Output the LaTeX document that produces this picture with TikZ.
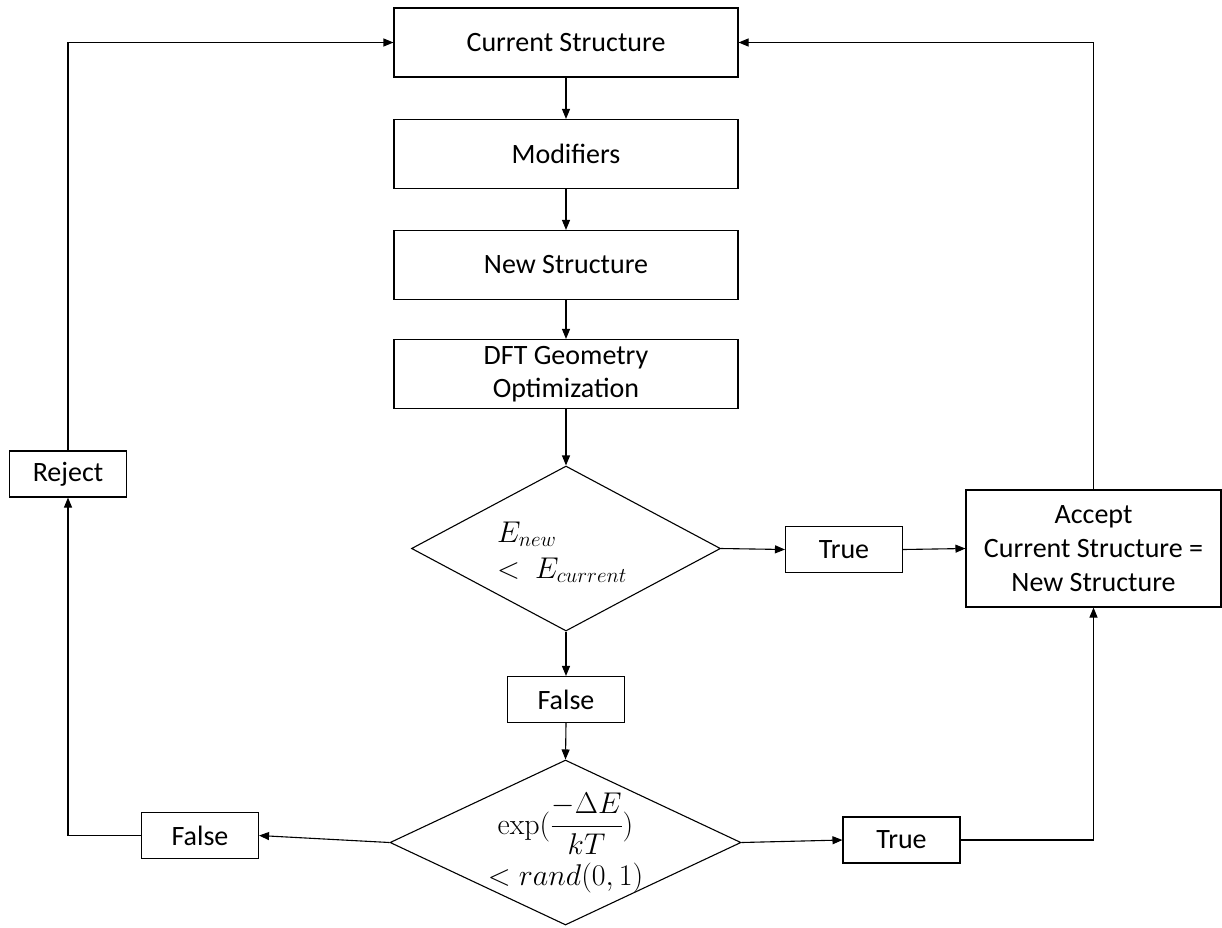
\RequirePackage{fix-cm}
\documentclass[tikz,border=0pt]{standalone}
\usepackage{amsmath}
\usepackage[no-math]{fontspec}
\setmainfont{Carlito}
\usetikzlibrary{shapes.geometric,arrows.meta}
\begin{document}
\begin{tikzpicture}[x=1pt,y=-1pt,line width=1.1pt,
  box/.style={draw,rectangle,inner sep=0pt,align=center,font=\fontsize{28}{33}\selectfont},
  big/.style={box,minimum width=344pt,minimum height=69pt},
  small/.style={box,minimum width=117pt,minimum height=46pt},
  dec/.style={draw,diamond,inner sep=0pt},
  dectext/.style={inner sep=0pt,font=\fontsize{30}{36}\selectfont},
  arr/.style={-{Triangle[length=10pt,width=8pt]}}]
\useasboundingbox (0,0) rectangle (1222,927);
\node[big] (cur) at (566,42.5) {Current Structure};
\node[big] (mod) at (566,154) {Modifiers};
\node[big] (new) at (566,265) {New Structure};
\node[big] (dft) at (566,374) {DFT Geometry\\Optimization};
\node[dec,aspect=1.87,minimum width=309pt,minimum height=165pt] (d1) at (566,548.5) {};
\node[dectext,align=left] (d1t) at (562,552) {$E_{new}$\\$<\ E_{current}$};
\node[small] (t1) at (844,549.5) {True};
\node[box,minimum width=255pt,minimum height=117pt,font=\fontsize{28}{34}\selectfont] (acc) at (1093.5,548.5)
  {Accept\\Current Structure =\\New Structure};
\node[small] (f1) at (566,699.5) {False};
\node[dec,aspect=2.13,minimum width=351pt,minimum height=165pt] (d2) at (565.5,842.5) {};
\node[dectext,align=center] (d2t) at (565.5,843) {$\exp(\displaystyle\frac{-\Delta E}{kT})$\\[7pt]$<rand(0,1)$};
\node[small] (t2) at (901.5,840) {True};
\node[small] (f2) at (200,835.5) {False};
\node[small] (rej) at (68,474) {Reject};
\draw[arr] (cur) -- (mod);
\draw[arr] (mod) -- (new);
\draw[arr] (new) -- (dft);
\draw[arr] (dft) -- (d1);
\draw[arr] (d1.east) -- (t1.west);
\draw[arr] (t1.east) -- (acc.west);
\draw[arr] (d1.south) -- (f1.north);
\draw[arr] (f1.south) -- (d2.north);
\draw[arr] (d2.west) -- (f2.east);
\draw[arr] (d2.east) -- (t2.west);
\draw[arr] (t2.east) -| (acc.south);
\draw[arr] (f2.west) -| (rej.south);
\draw[arr] (rej.north) |- (cur.west);
\draw[arr] (acc.north) |- (cur.east);
\end{tikzpicture}
\end{document}
